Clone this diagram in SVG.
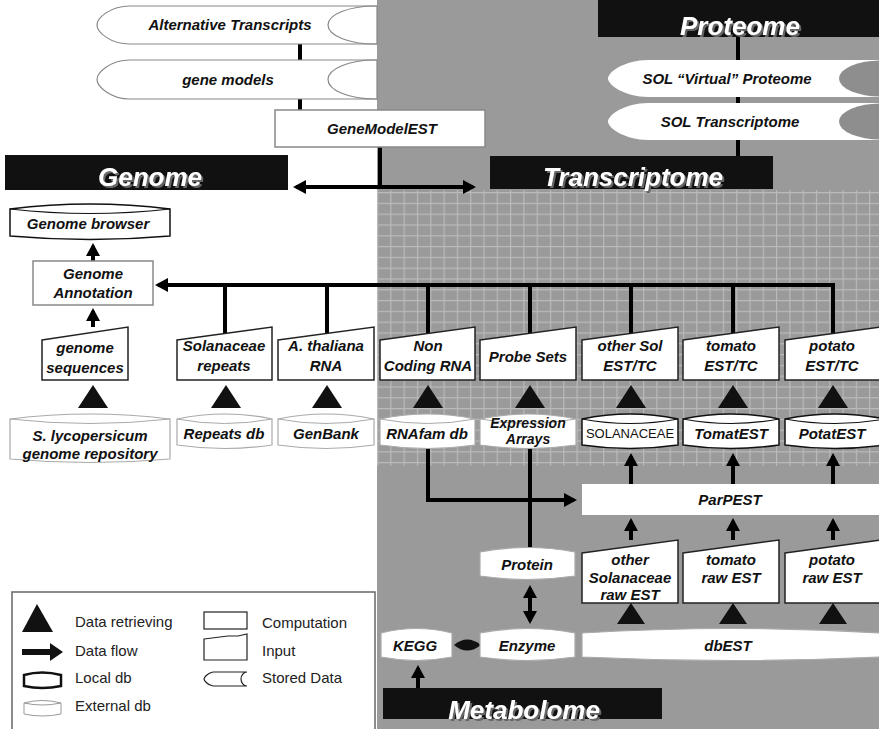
<svg xmlns="http://www.w3.org/2000/svg" width="879" height="729" viewBox="0 0 879 729">
<defs>
<style>
.t{font-family:"Liberation Sans",Arial,sans-serif;font-weight:bold;font-style:italic;font-size:15px;fill:#111;text-anchor:middle}
.s{font-size:14px}
.n{font-family:"Liberation Sans",Arial,sans-serif;font-size:13px;fill:#111;text-anchor:middle}
.bt{font-family:"Liberation Sans",Arial,sans-serif;font-weight:bold;font-style:italic;font-size:26px;fill:#fff;text-anchor:middle;filter:url(#sh)}
.lt{font-family:"Liberation Sans",Arial,sans-serif;font-size:15px;fill:#222}
.ban{fill:#111}
.comp{fill:#fff;stroke:#888;stroke-width:1.5}
.inp{fill:#fff;stroke:#222;stroke-width:1.5}
.ldb{fill:#fff;stroke:#111;stroke-width:1.5}
.edb{fill:#fff;stroke:#aaa;stroke-width:1.2}
.sd{fill:#fff;stroke:#888;stroke-width:1.2}
.sdg{fill:#fff;stroke:none}
.ln{fill:none;stroke:#000;stroke-width:4}
.tri{fill:#111}
</style>
<pattern id="grid" patternUnits="userSpaceOnUse" x="377" y="192" width="13.3" height="10.8">
<rect width="13.3" height="10.8" fill="#9a9a9a"/>
<path d="M0.6,0V10.8M0,0.6H13.3" stroke="#bababa" stroke-width="1.2"/>
</pattern>
<marker id="ah" markerUnits="userSpaceOnUse" markerWidth="14" markerHeight="14" refX="10" refY="7" orient="auto-start-reverse">
<path d="M0,0L13,7L0,14Z" fill="#000"/>
</marker>
<filter id="sh" x="-10%" y="-20%" width="130%" height="150%">
<feDropShadow dx="2" dy="2" stdDeviation="0.6" flood-color="#666"/>
</filter>
</defs>

<rect width="879" height="729" fill="#fff"/>
<rect x="377" y="0" width="502" height="729" fill="#9a9a9a"/>
<rect x="377" y="190" width="502" height="276" fill="url(#grid)"/>

<g id="connectors">
<path class="ln" d="M300,44V60"/>
<path class="ln" d="M300,99V110"/>
<path class="ln" d="M380,147V187"/>
<path class="ln" d="M296,187H473" marker-start="url(#ah)" marker-end="url(#ah)"/>
<path class="ln" d="M738,37V60"/>
<path class="ln" d="M738,97V103"/>
<path class="ln" d="M738,140V156"/>
<path class="ln" d="M93,261V246" marker-end="url(#ah)"/>
<path class="ln" d="M93,327V311" marker-end="url(#ah)"/>
<path class="ln" d="M833,333V285H158" marker-end="url(#ah)"/>
<path class="ln" d="M225,285V333"/>
<path class="ln" d="M327,285V333"/>
<path class="ln" d="M428,285V333"/>
<path class="ln" d="M530,285V333"/>
<path class="ln" d="M631,285V333"/>
<path class="ln" d="M733,285V333"/>
<polygon class="tri" points="78,408 93,385 108,408"/>
<polygon class="tri" points="211,408 226,385 241,408"/>
<polygon class="tri" points="312,408 327,385 342,408"/>
<polygon class="tri" points="413,408 428,385 443,408"/>
<polygon class="tri" points="515,408 530,385 545,408"/>
<polygon class="tri" points="616,408 631,385 646,408"/>
<polygon class="tri" points="718,408 733,385 748,408"/>
<polygon class="tri" points="818,408 833,385 848,408"/>
<path class="ln" d="M631,484V456" marker-end="url(#ah)"/>
<path class="ln" d="M733,484V456" marker-end="url(#ah)"/>
<path class="ln" d="M833,484V456" marker-end="url(#ah)"/>
<path class="ln" d="M631,540V521" marker-end="url(#ah)"/>
<path class="ln" d="M733,540V521" marker-end="url(#ah)"/>
<path class="ln" d="M833,540V521" marker-end="url(#ah)"/>
<polygon class="tri" points="617,624 631,603 645,624"/>
<polygon class="tri" points="719,624 733,603 747,624"/>
<polygon class="tri" points="819,624 833,603 847,624"/>
<path class="ln" d="M428,448V500H574" marker-end="url(#ah)"/>
<path class="ln" d="M530,448V548"/>
<path class="ln" d="M530,588V621" marker-start="url(#ah)" marker-end="url(#ah)"/>
<path d="M454,645Q467,634 481,645Q467,656 454,645Z" fill="#111"/>
<path class="ln" d="M418,688V668" marker-end="url(#ah)"/>
</g>

<g id="alt-transcripts">
<path class="sd" d="M130,6H377V44H130C110,44 97,32 97,25C97,18 110,6 130,6Z"/>
<path d="M377,6H375A47,19 0 0 0 375,44H377" fill="none" stroke="#888" stroke-width="1.2"/>
<text class="t" x="230" y="30">Alternative Transcripts</text>
</g>
<g id="gene-models">
<path class="sd" d="M130,60H377V99H130C110,99 97,86 97,79.5C97,73 110,60 130,60Z"/>
<path d="M377,60H375A47,19.5 0 0 0 375,99H377" fill="none" stroke="#888" stroke-width="1.2"/>
<text class="t" x="228" y="85">gene models</text>
</g>
<g id="genemodelest">
<rect class="comp" x="275" y="110" width="210" height="37"/>
<text class="t" x="382" y="134">GeneModelEST</text>
</g>
<g id="genome">
<rect class="ban" x="5" y="155" width="283" height="35"/>
<text class="bt" x="150" y="186">Genome</text>
</g>
<g id="proteome">
<rect class="ban" x="598" y="0" width="281" height="37"/>
<text class="bt" x="740" y="35">Proteome</text>
</g>
<g id="sol-virtual-proteome">
<path class="sdg" d="M648,60H879V97H648C625,97 608,85 608,78.5C608,72 625,60 648,60Z"/>
<ellipse cx="881" cy="78.5" rx="42" ry="18" fill="#8e8e8e"/>
<text class="t" x="727" y="84">SOL “Virtual” Proteome</text>
</g>
<g id="sol-transcriptome">
<path class="sdg" d="M648,103H879V140H648C625,140 608,128 608,121.5C608,115 625,103 648,103Z"/>
<ellipse cx="881" cy="121.5" rx="42" ry="18" fill="#8e8e8e"/>
<text class="t" x="730" y="127">SOL Transcriptome</text>
</g>
<g id="transcriptome">
<rect class="ban" x="490" y="156" width="283" height="33"/>
<text class="bt" x="633" y="186">Transcriptome</text>
</g>

<g id="genome-browser">
<path class="ldb" d="M10,209Q90,199 170,209V236Q90,243 10,236Z"/>
<path d="M10,209Q90,218 170,209" fill="none" stroke="#111" stroke-width="1.2"/>
<text class="t" x="88" y="229">Genome browser</text>
</g>
<g id="genome-annotation">
<rect class="comp" x="33" y="261" width="120" height="44"/>
<text class="t" x="93" y="279">Genome</text>
<text class="t" x="93" y="298">Annotation</text>
</g>

<g id="genome-sequences">
<path class="inp" d="M42,340L128,327V380H42Z"/>
<text class="t" x="85" y="353">genome</text>
<text class="t" x="85" y="373">sequences</text>
</g>
<g id="solanaceae-repeats">
<path class="inp" d="M177,340L272,327V380H177Z"/>
<text class="t" x="224" y="351">Solanaceae</text>
<text class="t" x="224" y="371">repeats</text>
</g>
<g id="athaliana-rna">
<path class="inp" d="M278,340L374,327V380H278Z"/>
<text class="t" x="326" y="351">A. thaliana</text>
<text class="t" x="326" y="371">RNA</text>
</g>
<g id="non-coding-rna">
<path class="inp" d="M380,340L475,327V380H380Z"/>
<text class="t" x="428" y="351">Non</text>
<text class="t" x="428" y="371">Coding RNA</text>
</g>
<g id="probe-sets">
<path class="inp" d="M480,340L576,327V380H480Z"/>
<text class="t" x="528" y="362">Probe Sets</text>
</g>
<g id="other-sol-est">
<path class="inp" d="M582,340L678,327V380H582Z"/>
<text class="t" x="630" y="351">other Sol</text>
<text class="t" x="630" y="371">EST/TC</text>
</g>
<g id="tomato-est">
<path class="inp" d="M683,340L779,327V380H683Z"/>
<text class="t" x="731" y="351">tomato</text>
<text class="t" x="731" y="371">EST/TC</text>
</g>
<g id="potato-est">
<path class="inp" d="M785,340L881,327V380H785Z"/>
<text class="t" x="832" y="351">potato</text>
<text class="t" x="832" y="371">EST/TC</text>
</g>

<g id="slycopersicum-repository">
<path class="edb" d="M10,419Q90,409 170,419V459Q90,466 10,459Z"/>
<path d="M10,419Q90,428 170,419" fill="none" stroke="#aaa" stroke-width="1"/>
<text class="t" x="90" y="441">S. lycopersicum</text>
<text class="t" x="90" y="459">genome repository</text>
</g>
<g id="repeats-db">
<path class="edb" d="M177,419Q224.5,409 272,419V445Q224.5,452 177,445Z"/>
<path d="M177,419Q224.5,428 272,419" fill="none" stroke="#aaa" stroke-width="1"/>
<text class="t" x="224" y="439">Repeats db</text>
</g>
<g id="genbank">
<path class="edb" d="M278,419Q326,409 374,419V445Q326,452 278,445Z"/>
<path d="M278,419Q326,428 374,419" fill="none" stroke="#aaa" stroke-width="1"/>
<text class="t" x="326" y="439">GenBank</text>
</g>
<g id="rnafam-db">
<path class="edb" d="M380,419Q427.5,409 475,419V445Q427.5,452 380,445Z"/>
<path d="M380,419Q427.5,428 475,419" fill="none" stroke="#aaa" stroke-width="1"/>
<text class="t" x="427" y="439">RNAfam db</text>
</g>
<g id="expression-arrays">
<path class="edb" d="M480,419Q528,409 576,419V445Q528,452 480,445Z"/>
<path d="M480,419Q528,428 576,419" fill="none" stroke="#aaa" stroke-width="1"/>
<text class="t s" x="528" y="428">Expression</text>
<text class="t s" x="528" y="444">Arrays</text>
</g>
<g id="solanaceae-db">
<path class="ldb" d="M582,419Q630,409 678,419V445Q630,452 582,445Z"/>
<path d="M582,419Q630,428 678,419" fill="none" stroke="#111" stroke-width="1.2"/>
<text class="n" x="630" y="438">SOLANACEAE</text>
</g>
<g id="tomatest">
<path class="ldb" d="M683,419Q731,409 779,419V445Q731,452 683,445Z"/>
<path d="M683,419Q731,428 779,419" fill="none" stroke="#111" stroke-width="1.2"/>
<text class="t" x="731" y="439">TomatEST</text>
</g>
<g id="potatest">
<path class="ldb" d="M785,419Q835,409 885,419V445Q835,452 785,445Z"/>
<path d="M785,419Q835,428 885,419" fill="none" stroke="#111" stroke-width="1.2"/>
<text class="t" x="832" y="439">PotatEST</text>
</g>

<g id="parpest">
<rect x="582" y="484" width="298" height="31" fill="#fff"/>
<text class="t" x="730" y="505">ParPEST</text>
</g>
<g id="raw-other">
<path class="inp" d="M582,553L678,540V603H582Z"/>
<text class="t" x="630" y="565">other</text>
<text class="t" x="630" y="583">Solanaceae</text>
<text class="t" x="630" y="600">raw EST</text>
</g>
<g id="raw-tomato">
<path class="inp" d="M683,553L779,540V603H683Z"/>
<text class="t" x="731" y="565">tomato</text>
<text class="t" x="731" y="583">raw EST</text>
</g>
<g id="raw-potato">
<path class="inp" d="M785,553L881,540V603H785Z"/>
<text class="t" x="832" y="565">potato</text>
<text class="t" x="832" y="583">raw EST</text>
</g>
<g id="protein">
<path class="edb" d="M480,552Q527.5,543 575,552V576Q527.5,583 480,576Z"/>
<text class="t" x="527" y="570">Protein</text>
</g>
<g id="enzyme">
<path class="edb" d="M480,633Q527.5,624 575,633V657Q527.5,664 480,657Z"/>
<text class="t" x="527" y="651">Enzyme</text>
</g>
<g id="kegg">
<path class="edb" d="M381,633Q416.5,624 452,633V657Q416.5,664 381,657Z"/>
<text class="t" x="415" y="651">KEGG</text>
</g>
<g id="dbest">
<path class="edb" d="M582,633Q731,624 880,633V657Q731,664 582,657Z"/>
<text class="t" x="728" y="651">dbEST</text>
</g>
<g id="metabolome">
<rect class="ban" x="383" y="688" width="279" height="31"/>
<text class="bt" x="524" y="719">Metabolome</text>
</g>

<g id="legend">
<rect x="12" y="592" width="363" height="140" fill="#fff" stroke="#666" stroke-width="1.5"/>
<polygon points="22,632 37,604 53,632" fill="#111"/>
<path d="M22,652H51" stroke="#111" stroke-width="6"/>
<polygon points="50,643 63,652 50,661" fill="#111"/>
<path d="M24,675Q42,670 61,675V686Q42,690 24,686Z" fill="#fff" stroke="#111" stroke-width="2.5"/>
<path d="M24,703Q42,698 61,703V714Q42,718 24,714Z" fill="#fff" stroke="#999" stroke-width="1"/>
<path d="M24,703Q42,707 61,703" fill="none" stroke="#999" stroke-width="1"/>
<rect x="204" y="612" width="43" height="17" fill="#fff" stroke="#222" stroke-width="1.2"/>
<path d="M204,639L228,636H238L247,634V660H204Z" fill="#fff" stroke="#222" stroke-width="1.2"/>
<path d="M213,672H247M213,686H247M213,672C207,673 204,678 204,679C204,680 207,685 213,686M247,672A6,7 0 0 0 247,686" fill="none" stroke="#222" stroke-width="1.2"/>
<text class="lt" x="75" y="627">Data retrieving</text>
<text class="lt" x="75" y="656">Data flow</text>
<text class="lt" x="75" y="683">Local db</text>
<text class="lt" x="75" y="711">External db</text>
<text class="lt" x="262" y="628">Computation</text>
<text class="lt" x="262" y="656">Input</text>
<text class="lt" x="262" y="683">Stored Data</text>
</g>
</svg>
